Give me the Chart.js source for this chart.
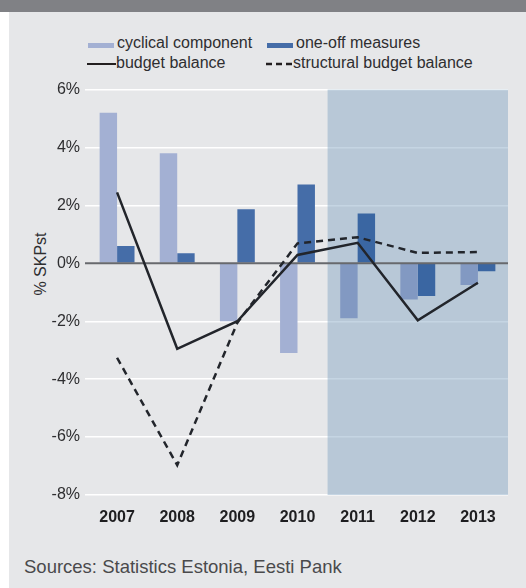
<!DOCTYPE html>
<html>
<head>
<meta charset="utf-8">
<script src="https://cdn.jsdelivr.net/npm/chart.js@4/dist/chart.umd.min.js"></script>
<style>
  html, body { margin: 0; padding: 0; }
  body { width: 526px; height: 588px; position: relative; background: #ffffff; overflow: hidden;
         font-family: "Liberation Sans", Arial, sans-serif; color: #2e2e30; }
  #topbar { position: absolute; left: 0; top: 0; width: 526px; height: 12px; background: #808185; }
  #panel { position: absolute; left: 9px; top: 12px; width: 517px; height: 576px; background: #e6e7e9; }
  #chartbox { position: absolute; left: 9px; top: 75px; width: 517px; height: 460px; }
  .leg { position: absolute; font-size: 16px; line-height: 20px; white-space: nowrap; color: #2e2e30; }
  .sw { position: absolute; }
  #ytitle { position: absolute; left: 41px; top: 264px; font-size: 16px; white-space: nowrap;
            transform: translate(-50%, -50%) rotate(-90deg); color: #2e2e30; }
  #source { position: absolute; left: 24px; top: 556px; font-size: 18.5px; color: #4a4a4c; white-space: nowrap; }
</style>
</head>
<body>
<div id="topbar"></div>
<div id="panel"></div>

<div class="sw" style="left:88px;top:43px;width:26px;height:5px;background:#a3b0d3;"></div>
<div class="leg" style="left:117px;top:33px;">cyclical component</div>
<div class="sw" style="left:267px;top:43px;width:26px;height:5px;background:#456da8;"></div>
<div class="leg" style="left:296px;top:33px;">one-off measures</div>

<div class="sw" style="left:87px;top:63px;width:29px;height:0;border-top:2.5px solid #231f20;"></div>
<div class="leg" style="left:116px;top:53px;">budget balance</div>
<svg class="sw" style="left:266px;top:61px;" width="28" height="6"><line x1="0" y1="3" x2="28" y2="3" stroke="#231f20" stroke-width="2.5" stroke-dasharray="6,4"/></svg>
<div class="leg" style="left:293px;top:53px;">structural budget balance</div>

<div id="ytitle">% SKPst</div>
<div id="chartbox"><canvas id="c" width="517" height="460"></canvas></div>
<div id="source">Sources: Statistics Estonia, Eesti Pank</div>

<script>
const years = ["2007", "2008", "2009", "2010", "2011", "2012", "2013"];
const cyclical = [5.2, 3.8, -2.0, -3.1, -1.9, -1.25, -0.75];
const oneOff = [0.6, 0.35, 1.87, 2.72, 1.72, -1.13, -0.27];
const budgetBalance = [2.45, -2.95, -2.0, 0.29, 0.71, -1.97, -0.67];
const structuralBalance = [-3.26, -6.97, -2.05, 0.69, 0.9, 0.36, 0.39];
const yTicks = [6, 4, 2, 0, -2, -4, -6, -8];
const forecastStart = "2011";

const fIdx = years.indexOf(forecastStart);
const cycColors = years.map((y, i) => i >= fIdx ? "#8299c2" : "#a3b0d3");
const oneColors = years.map((y, i) => i >= fIdx ? "#3a66a2" : "#456da8");

const shadePlugin = {
  id: "shade",
  beforeDatasetsDraw(chart) {
    const { ctx, chartArea, scales } = chart;
    const x = scales.x;
    const x0 = (x.getPixelForValue(fIdx - 1) + x.getPixelForValue(fIdx)) / 2;
    ctx.save();
    ctx.fillStyle = "rgba(134,168,197,0.48)";
    ctx.fillRect(x0, chartArea.top, chartArea.right - x0, chartArea.bottom - chartArea.top);
    ctx.restore();
  },
  afterDatasetDraw(chart, args) {
    if (args.index !== 2) return;
    const { ctx, chartArea, scales } = chart;
    const y0 = scales.y.getPixelForValue(0);
    ctx.save();
    ctx.strokeStyle = "#67696d";
    ctx.lineWidth = 2;
    ctx.beginPath();
    ctx.moveTo(chartArea.left - 2, y0);
    ctx.lineTo(chartArea.right, y0);
    ctx.stroke();
    ctx.restore();
  }
};

new Chart(document.getElementById("c"), {
  data: {
    labels: years,
    datasets: [
      { type: "line", label: "budget balance", data: budgetBalance, borderColor: "#22252b",
        borderWidth: 2.5, pointRadius: 0, fill: false, tension: 0 },
      { type: "line", label: "structural budget balance", data: structuralBalance, borderColor: "#22252b",
        borderWidth: 2.5, borderDash: [7, 5], pointRadius: 0, fill: false, tension: 0 },
      { type: "bar", label: "cyclical component", data: cyclical, backgroundColor: cycColors,
        barPercentage: 1.0, categoryPercentage: 0.58 },
      { type: "bar", label: "one-off measures", data: oneOff, backgroundColor: oneColors,
        barPercentage: 1.0, categoryPercentage: 0.58 }
    ]
  },
  options: {
    responsive: false,
    animation: false,
    events: [],
    layout: { padding: { top: 14, right: 18, bottom: 0, left: 0 } },
    plugins: { legend: { display: false }, tooltip: { enabled: false } },
    scales: {
      x: {
        grid: { display: false, drawTicks: false },
        border: { display: false },
        ticks: { color: "#1e1e20", font: { family: "Liberation Sans", size: 16, weight: "bold" }, padding: 13 },
        afterFit(s) { s.height = 40; }
      },
      y: {
        min: -8, max: 6,
        afterBuildTicks(s) { s.ticks = yTicks.map(v => ({ value: v })); },
        grid: { color: (c) => c.tick && c.tick.value === 0 ? "rgba(0,0,0,0)" : "#ffffff", lineWidth: 1.5, tickLength: 2, drawTicks: true },
        border: { display: false },
        ticks: { color: "#2e2e30", font: { family: "Liberation Sans", size: 16 }, padding: 5,
                 callback: (v) => v + "%" },
        afterFit(s) { s.width = 78; }
      }
    }
  },
  plugins: [shadePlugin]
});
</script>
</body>
</html>
